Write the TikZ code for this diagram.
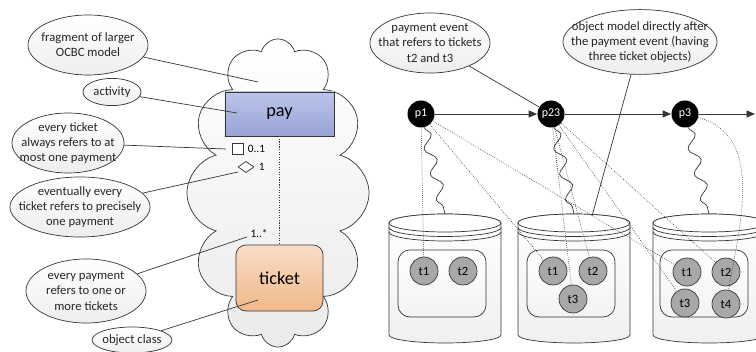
\documentclass[tikz,border=0pt]{standalone}
\usepackage{fontspec}
\setmainfont{Carlito}
\usetikzlibrary{shapes.geometric,shapes.symbols,arrows.meta,decorations.pathmorphing}

\definecolor{edgegray}{HTML}{363636}
\definecolor{paytop}{HTML}{BCC5EA}
\definecolor{paybot}{HTML}{98A3D6}
\definecolor{tictop}{HTML}{FADDC6}
\definecolor{ticbot}{HTML}{EFB98A}
\definecolor{tokgray}{HTML}{A8A8A8}

\begin{document}
\begin{tikzpicture}[x=0.025cm, y=0.025cm, line width=0.5pt,
		callout/.style={ellipse, draw=edgegray, top color=white, bottom color=gray!14, inner sep=0pt},
		calltext/.style={align=center, font=\fontsize{9}{10.8}\selectfont, text=black!85},
		pointer/.style={draw=edgegray},
		event/.style={circle, fill=black, text=white, minimum size=0.675cm, inner sep=0pt, font=\fontsize{8.5}{10}\selectfont},
		flow/.style={draw=edgegray, -{Triangle[length=6pt, width=5pt]}},
		store/.style={draw=edgegray, top color=white, bottom color=gray!12},
		objmodel/.style={draw=edgegray, rounded corners=0.3cm, top color=white, bottom color=gray!10, minimum width=2.2cm, minimum height=1.675cm},
		token/.style={circle, draw=edgegray, fill=tokgray, minimum size=0.7cm, inner sep=0pt, font=\fontsize{9}{10}\selectfont},
		refers/.style={densely dotted, draw=edgegray, line width=0.45pt},
		occurs/.style={draw=edgegray, decorate, decoration={snake, segment length=0.65cm, amplitude=0.13cm}},
		mult/.style={font=\fontsize{8}{9}\selectfont, inner sep=1pt}]
		
		% Fix the picture size
		\useasboundingbox (0,0) rectangle (756,-352);
		
		% Draw the OCBC fragment
		\node[cloud, cloud puffs=12, cloud ignores aspect, draw=edgegray, top color=white, bottom color=gray!16, minimum width=4.55cm, minimum height=7.7cm] (frag) at (278,-193) {};
		\node[draw=edgegray, top color=paytop, bottom color=paybot, minimum width=2.725cm, minimum height=1.1cm, font=\fontsize{13}{15}\selectfont] (pay) at (279.5,-114) {pay};
		\node[draw=edgegray, rounded corners=0.25cm, top color=tictop, bottom color=ticbot, minimum width=2.175cm, minimum height=1.65cm, font=\fontsize{13}{15}\selectfont] (ticket) at (279.5,-278) {ticket};
		\draw[edgegray, densely dotted, line width=0.8pt] (pay.south) -- (ticket.north);
		
		% Draw the cardinalities
		\node[draw=edgegray, fill=white, minimum size=0.275cm, inner sep=0pt] (lonesq) at (237.5,-148.5) {};
		\node[mult, anchor=west, xshift=2pt] (lone) at (lonesq.east) {0..1};
		\node[diamond, draw=edgegray, fill=white, minimum width=0.4cm, minimum height=0.28cm, inner sep=0pt] (findia) at (246,-167) {};
		\node[mult, anchor=west, xshift=2pt] (fin) at (findia.east) {1};
		\node[mult] (many) at (259,-234) {1..*};
		
		% Draw the callouts on the left
		\node[callout, minimum width=3cm, minimum height=1.5cm, label={[calltext]center:{fragment of larger\\OCBC model}}] (cfrag) at (88,-45) {};
		\node[callout, minimum width=1.45cm, minimum height=0.68cm, label={[calltext]center:activity}] (cact) at (112,-92) {};
		\node[callout, minimum width=2.8cm, minimum height=1.5cm, label={[calltext]center:{every ticket\\always refers to at\\most one payment}}] (cmost) at (68,-143) {};
		\node[callout, minimum width=3.5cm, minimum height=1.5cm, label={[calltext]center:{eventually every\\ticket refers to precisely\\one payment}}] (ceven) at (80,-207) {};
		\node[callout, minimum width=3cm, minimum height=1.6cm, label={[calltext]center:{every payment\\refers to one or\\more tickets}}] (cone) at (86,-291) {};
		\node[callout, minimum width=2cm, minimum height=0.65cm, label={[calltext]center:object class}] (ccls) at (132,-340) {};
		
		% Points the left callouts refer to
		\coordinate (pfrag) at (258,-82);
		\coordinate (pact) at (237,-113);
		\coordinate (pmost) at (226,-149);
		\coordinate (peven) at (238,-172);
		\coordinate (pone) at (247,-237);
		\coordinate (pcls) at (258,-300);
		
		\draw[pointer] (cfrag) -- (pfrag);
		\draw[pointer] (cact) -- (pact);
		\draw[pointer] (cmost) -- (pmost);
		\draw[pointer] (ceven) -- (peven);
		\draw[pointer] (cone) -- (pone);
		\draw[pointer] (ccls) -- (pcls);
		
		% Draw the object models as stores
		\draw[store] (389,-223) -- (389,-335) arc[start angle=180, end angle=360, x radius=56, y radius=8] -- (501,-223) arc[start angle=0, end angle=180, x radius=56, y radius=9] -- cycle;
		\draw[draw=edgegray, fill=white] (445,-223) ellipse [x radius=56, y radius=9];
		\draw[edgegray] (389,-227.5) arc[start angle=180, end angle=360, x radius=56, y radius=9];
		\draw[edgegray] (389,-232) arc[start angle=180, end angle=360, x radius=56, y radius=9];
		
		\draw[store] (518,-223) -- (518,-335) arc[start angle=180, end angle=360, x radius=56, y radius=8] -- (630,-223) arc[start angle=0, end angle=180, x radius=56, y radius=9] -- cycle;
		\draw[draw=edgegray, fill=white] (574,-223) ellipse [x radius=56, y radius=9];
		\draw[edgegray] (518,-227.5) arc[start angle=180, end angle=360, x radius=56, y radius=9];
		\draw[edgegray] (518,-232) arc[start angle=180, end angle=360, x radius=56, y radius=9];
		
		\draw[store] (653,-223) -- (653,-335) arc[start angle=180, end angle=360, x radius=56, y radius=8] -- (765,-223) arc[start angle=0, end angle=180, x radius=56, y radius=9] -- cycle;
		\draw[draw=edgegray, fill=white] (709,-223) ellipse [x radius=56, y radius=9];
		\draw[edgegray] (653,-227.5) arc[start angle=180, end angle=360, x radius=56, y radius=9];
		\draw[edgegray] (653,-232) arc[start angle=180, end angle=360, x radius=56, y radius=9];
		
		% Draw the objects in each model
		\node[objmodel] (s1) at (442,-283.5) {};
		\node[token] (s1t1) at (424,-271) {t1};
		\node[token] (s1t2) at (463,-271) {t2};
		
		\node[objmodel] (s2) at (571,-283.5) {};
		\node[token] (s2t1) at (553,-271) {t1};
		\node[token] (s2t2) at (593,-271) {t2};
		\node[token] (s2t3) at (573,-299) {t3};
		
		\node[objmodel] (s3) at (704,-283.5) {};
		\node[token] (s3t1) at (687,-272) {t1};
		\node[token] (s3t2) at (726,-272) {t2};
		\node[token] (s3t3) at (685,-303) {t3};
		\node[token] (s3t4) at (726,-304) {t4};
		
		% Draw the events
		\node[event] (p1) at (421,-114) {p1};
		\node[event] (p23) at (551,-114) {p23};
		\node[event] (p3) at (685,-114) {p3};
		\coordinate (pend) at (755,-114);
		
		\draw[flow] (p1) -- (p23);
		\draw[flow] (p23) -- (p3);
		\draw[flow] (p3) -- (pend);
		
		% Each event leads to an object model
		\coordinate (w1) at (445,-214);
		\coordinate (w2) at (574,-214);
		\coordinate (w3) at (709,-214);
		\draw[occurs] (p1) -- (w1);
		\draw[occurs] (p23) -- (w2);
		\draw[occurs] (p3) -- (w3);
		
		% Draw the references to tickets
		\draw[refers] (p1) -- (s1t1);
		\draw[refers] (p1) -- (s2t1);
		\draw[refers] (p1) -- (s3t1);
		\draw[refers] (p23) -- (s2t2);
		\draw[refers] (p23) -- (s2t3);
		\draw[refers] (p23) -- (s3t2);
		\draw[refers] (p23) -- (s3t3);
		\draw[refers] (p3) to[out=-15, in=80] (s3t4);
		
		% Draw the callouts on the right
		\node[callout, minimum width=3cm, minimum height=1.5cm, label={[calltext]center:{payment event\\that refers to tickets\\t2 and t3}}] (cevt) at (430,-43) {};
		\node[callout, minimum width=3.85cm, minimum height=1.62cm, label={[calltext]center:{object model directly after\\the payment event (having\\three ticket objects)}}] (cobj) at (640,-42) {};
		\coordinate (pobj) at (592,-216);
		
		\draw[pointer] (cevt) -- (p23);
		\draw[pointer] (cobj) -- (pobj);
		
	\end{tikzpicture}
\end{document}
